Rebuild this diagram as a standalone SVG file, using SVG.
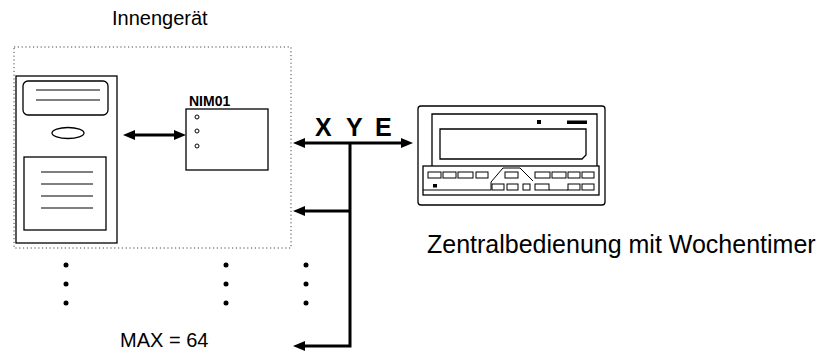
<svg xmlns="http://www.w3.org/2000/svg" width="833" height="355" viewBox="0 0 833 355">
  <style>
    .ln { fill: none; stroke: #000; stroke-width: 1.3; }
    .thin { fill: none; stroke: #000; stroke-width: 1; }
    .bus { fill: none; stroke: #000; stroke-width: 3; }
    .btn { fill: #fff; stroke: #000; stroke-width: 1; }
    .dot { fill: #000; }
    .lbl { font-family: "Liberation Sans", Arial, sans-serif; fill: #000; }
    .bold { font-weight: bold; }
  </style>
  <defs>
    <marker id="ah" viewBox="0 0 12 10" refX="6" refY="5" markerWidth="12" markerHeight="10" markerUnits="userSpaceOnUse" orient="auto-start-reverse">
      <path d="M0,0 L12,5 L0,10 Z" fill="#000"/>
    </marker>
  </defs>

  <rect width="833" height="355" fill="#fff"/>

  <!-- indoor unit enclosure -->
  <g id="indoor-unit">
    <text class="lbl" x="112" y="25" font-size="20">Innengerät</text>
    <rect x="14" y="47" width="277" height="201" fill="none" stroke="#444" stroke-width="1" stroke-dasharray="1.2 2.6"/>
  </g>

  <!-- tower unit -->
  <g id="tower">
    <rect x="16" y="76" width="101" height="167" class="ln" stroke-width="2"/>
    <rect x="23" y="81" width="85" height="34" rx="5" class="ln"/>
    <line x1="36" y1="90" x2="100" y2="90" class="thin"/>
    <line x1="36" y1="100" x2="100" y2="100" class="thin"/>
    <ellipse cx="68" cy="133" rx="16" ry="5.5" class="ln"/>
    <rect x="24" y="157" width="82" height="73" class="ln"/>
    <line x1="41" y1="172" x2="93" y2="172" class="thin"/>
    <line x1="41" y1="184" x2="93" y2="184" class="thin"/>
    <line x1="41" y1="196" x2="93" y2="196" class="thin"/>
    <line x1="41" y1="208" x2="93" y2="208" class="thin"/>
  </g>

  <!-- NIM01 interface module -->
  <g id="nim01">
    <text class="lbl bold" x="189" y="106" font-size="14">NIM01</text>
    <rect x="186" y="109" width="82" height="61" class="ln"/>
    <circle cx="197" cy="117" r="2" class="thin"/>
    <circle cx="197" cy="131" r="2" class="thin"/>
    <circle cx="197" cy="146" r="2" class="thin"/>
  </g>

  <!-- central controller with weekly timer -->
  <g id="controller">
    <rect x="418" y="106" width="187" height="99" rx="3" class="ln" stroke-width="1.5"/>
    <path d="M432,166 V114 H597 V166" class="ln"/>
    <path d="M440,129 H586 V155 L582,159 H440 Z" class="ln"/>
    <rect x="537" y="120" width="4" height="4" fill="#000"/>
    <rect x="567" y="120.5" width="20" height="3.5" fill="#000"/>
    <rect x="423" y="166" width="176" height="29" class="ln"/>
    <line x1="423" y1="190" x2="491" y2="190" class="thin"/>
    <path d="M491,190 V182 L503,168 H520 L533,181" class="thin"/>
    <!-- upper key row -->
    <rect x="428" y="172" width="13" height="6" class="btn"/>
    <rect x="443" y="172" width="13" height="6" class="btn"/>
    <rect x="458" y="172" width="15" height="6" class="btn"/>
    <rect x="476" y="172" width="12" height="6" class="btn"/>
    <rect x="505" y="172" width="13" height="6" class="btn"/>
    <rect x="535" y="172" width="15" height="6" class="btn"/>
    <rect x="552" y="172" width="14" height="6" class="btn"/>
    <rect x="568" y="172" width="12" height="6" class="btn"/>
    <rect x="582" y="172" width="12" height="6" class="btn"/>
    <!-- lower key row -->
    <rect x="433" y="184" width="4" height="3.5" fill="#000"/>
    <rect x="492" y="184" width="12" height="6" class="btn"/>
    <rect x="507" y="184" width="11" height="6" class="btn"/>
    <rect x="523" y="184" width="7" height="6" class="btn"/>
    <rect x="535" y="184" width="14" height="6" class="btn"/>
    <line x1="549" y1="190" x2="568" y2="190" class="thin"/>
    <rect x="568" y="184" width="12" height="6" class="btn"/>
    <rect x="582" y="184" width="12" height="6" class="btn"/>
    <text class="lbl" x="427" y="253" font-size="25">Zentralbedienung mit Wochentimer</text>
  </g>

  <!-- continuation marks and unit count -->
  <g id="more-units">
    <circle cx="66" cy="265" r="2.5" class="dot"/>
    <circle cx="66" cy="284" r="2.5" class="dot"/>
    <circle cx="66" cy="303" r="2.5" class="dot"/>
    <circle cx="226" cy="265" r="2.5" class="dot"/>
    <circle cx="226" cy="284" r="2.5" class="dot"/>
    <circle cx="226" cy="303" r="2.5" class="dot"/>
    <circle cx="306" cy="265" r="2.5" class="dot"/>
    <circle cx="306" cy="284" r="2.5" class="dot"/>
    <circle cx="306" cy="303" r="2.5" class="dot"/>
    <text class="lbl" x="120" y="347" font-size="20">MAX = 64</text>
  </g>

  <!-- bus label -->
  <g id="bus-label">
    <text class="lbl bold" x="315" y="136" font-size="25">X</text>
    <text class="lbl bold" x="346" y="136" font-size="25">Y</text>
    <text class="lbl bold" x="375" y="136" font-size="25">E</text>
  </g>

  <!-- connectors -->
  <g id="connectors">
    <line x1="129" y1="135" x2="180" y2="135" class="bus" marker-start="url(#ah)" marker-end="url(#ah)"/>
    <line x1="299" y1="143" x2="407" y2="143" class="bus" marker-start="url(#ah)" marker-end="url(#ah)"/>
    <polyline points="350,143 350,346 299,346" class="bus" marker-end="url(#ah)"/>
    <line x1="350" y1="211" x2="299" y2="211" class="bus" marker-end="url(#ah)"/>
  </g>
</svg>
